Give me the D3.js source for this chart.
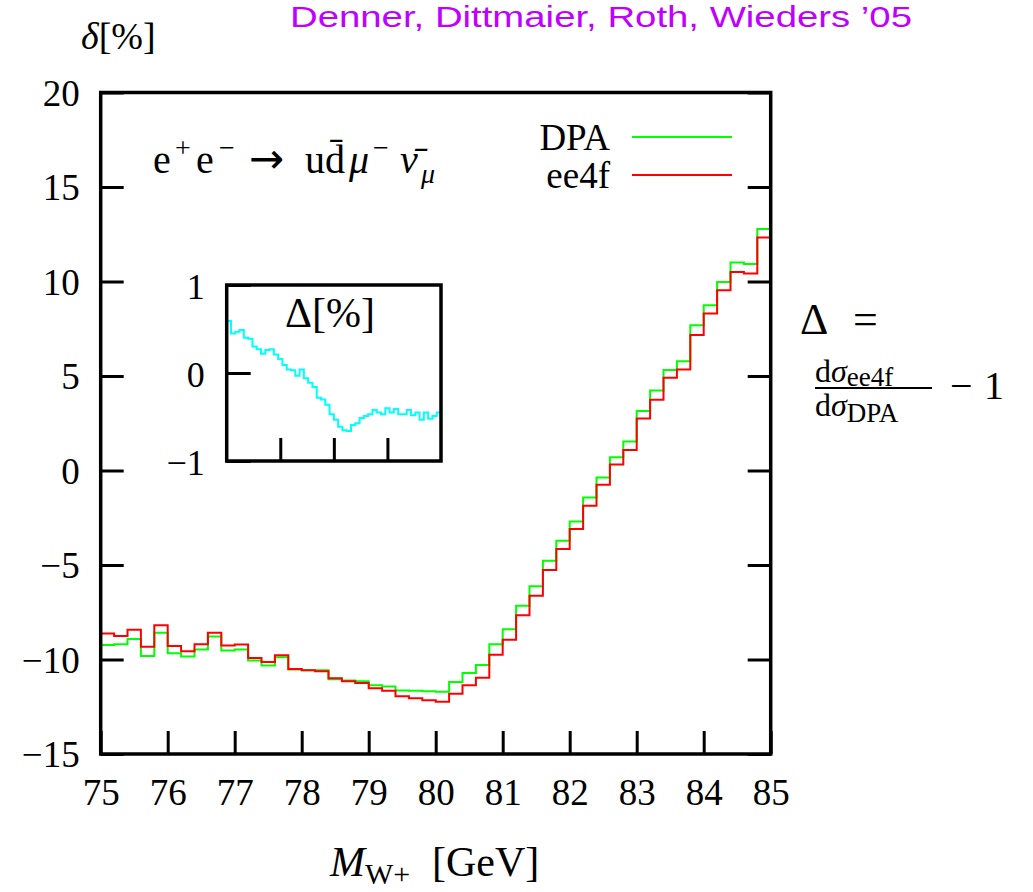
<!DOCTYPE html>
<html>
<head>
<meta charset="utf-8">
<script src="https://cdn.jsdelivr.net/npm/d3@7"></script>
<style>
  body { margin: 0; background: #fff; }
  svg { display: block; }
  .serif { font-family: "Liberation Serif", "DejaVu Serif", serif; fill: #000; }
</style>
</head>
<body>
<script>
// bin edges of M_W+ [GeV]
const binEdges = [75.0, 75.2, 75.4, 75.6, 75.8, 76.0, 76.2, 76.4, 76.6, 76.8,
  77.0, 77.2, 77.4, 77.6, 77.8, 78.0, 78.2, 78.4, 78.6, 78.8,
  79.0, 79.2, 79.4, 79.6, 79.8, 80.0, 80.2, 80.4, 80.6, 80.8,
  81.0, 81.2, 81.4, 81.6, 81.8, 82.0, 82.2, 82.4, 82.6, 82.8,
  83.0, 83.2, 83.4, 83.6, 83.8, 84.0, 84.2, 84.4, 84.6, 84.8, 85.0];

// delta [%] per bin
const dpa = [-9.23, -9.19, -8.91, -9.81, -8.59, -9.67, -9.84, -9.47, -8.78, -9.52,
  -9.47, -10.05, -10.32, -9.88, -10.53, -10.57, -10.57, -11.04, -11.11, -11.15,
  -11.36, -11.43, -11.64, -11.66, -11.68, -11.71, -11.19, -10.72, -10.29, -9.19,
  -8.40, -7.16, -6.12, -4.78, -3.72, -2.70, -1.43, -0.37, 0.70, 1.53,
  3.15, 4.23, 5.32, 5.78, 7.68, 8.75, 9.98, 11.00, 10.92, 12.78];

const ee4f = [-8.62, -8.75, -8.43, -9.33, -8.19, -9.28, -9.56, -9.19, -8.59, -9.26,
  -9.21, -9.92, -10.13, -9.77, -10.50, -10.57, -10.62, -10.99, -11.15, -11.24,
  -11.52, -11.66, -11.94, -12.05, -12.15, -12.24, -11.81, -11.36, -10.96, -9.75,
  -8.95, -7.66, -6.63, -5.26, -4.15, -3.09, -1.87, -0.76, 0.32, 1.08,
  2.75, 3.75, 4.91, 5.35, 7.17, 8.31, 9.54, 10.50, 10.42, 12.33];

// inset: Delta [%] = dsigma_ee4f / dsigma_DPA - 1
const deltaRel = [0.59, 0.45, 0.47, 0.49, 0.40, 0.39, 0.30, 0.27, 0.22, 0.26,
  0.27, 0.21, 0.16, 0.09, 0.04, 0.03, -0.03, 0.04, -0.06, -0.11,
  -0.16, -0.28, -0.30, -0.36, -0.47, -0.53, -0.61, -0.65, -0.66, -0.59,
  -0.57, -0.51, -0.49, -0.47, -0.42, -0.45, -0.47, -0.40, -0.45, -0.41,
  -0.47, -0.47, -0.42, -0.48, -0.45, -0.53, -0.45, -0.52, -0.49, -0.45];

const xTicks = [75, 76, 77, 78, 79, 80, 81, 82, 83, 84, 85];
const yTicks = [-15, -10, -5, 0, 5, 10, 15, 20];
const insetXTicks = [77.5, 80, 82.5];
const insetYTicks = [-1, 0, 1];

const svg = d3.select(document.body).append('svg')
  .attr('width', 1033).attr('height', 892);

const main = { left: 100.7, right: 770.7, top: 92.5, bottom: 754 };
const inset = { left: 226.7, right: 441, top: 285, bottom: 461 };

const x = d3.scaleLinear().domain([75, 85]).range([main.left, main.right]);
const y = d3.scaleLinear().domain([-15, 20]).range([main.bottom, main.top]);
const xi = d3.scaleLinear().domain([75, 85]).range([inset.left, inset.right]);
const yi = d3.scaleLinear().domain([-1, 1]).range([inset.bottom, inset.top]);

// step points: value of each bin starts at its low edge, last edge closes it
function steps(vals){
  const pts = vals.map((v, i) => [binEdges[i], v]);
  pts.push([binEdges[binEdges.length - 1], vals[vals.length - 1]]);
  return pts;
}

drawMain();
drawInset();
drawTexts();

function drawMain(){
  const line = d3.line().curve(d3.curveStepAfter)
    .x(d => x(d[0])).y(d => y(d[1]));

  svg.append('path').datum(steps(dpa))
    .attr('d', line).attr('fill', 'none')
    .attr('stroke', '#00ff00').attr('stroke-width', 2);
  svg.append('path').datum(steps(ee4f))
    .attr('d', line).attr('fill', 'none')
    .attr('stroke', '#ff0000').attr('stroke-width', 2);

  const gx = svg.append('g')
    .attr('transform', `translate(0,${main.bottom})`)
    .call(d3.axisBottom(x).tickValues(xTicks).tickSize(-23).tickPadding(25)
      .tickFormat(d3.format('d')));
  const gy = svg.append('g')
    .attr('transform', `translate(${main.left},0)`)
    .call(d3.axisLeft(y).tickValues(yTicks).tickSize(-23).tickPadding(21)
      .tickFormat(d3.format('d')));
  const gr = svg.append('g')
    .attr('transform', `translate(${main.right},0)`)
    .call(d3.axisRight(y).tickValues(yTicks).tickSize(-23).tickFormat(''));

  [gx, gy, gr].forEach(g => {
    g.select('.domain').remove();
    g.selectAll('line').attr('stroke', '#000').attr('stroke-width', 3);
    g.selectAll('text').attr('class', 'serif').attr('font-size', 37)
      .attr('fill', '#000');
  });
  gx.selectAll('text').attr('dy', '0.7em');
  gy.selectAll('text').attr('dy', '0.35em');

  svg.append('rect')
    .attr('x', main.left).attr('y', main.top)
    .attr('width', main.right - main.left).attr('height', main.bottom - main.top)
    .attr('fill', 'none').attr('stroke', '#000').attr('stroke-width', 3.5);

  // legend
  const legend = [
    {name: 'DPA', color: '#00ff00', ty: 150, ly: 137},
    {name: 'ee4f', color: '#ff0000', ty: 188, ly: 175}
  ];
  legend.forEach(l => {
    svg.append('text').attr('class', 'serif')
      .attr('x', 610).attr('y', l.ty).attr('text-anchor', 'end')
      .attr('font-size', 37).text(l.name);
    svg.append('line')
      .attr('x1', 632).attr('x2', 732).attr('y1', l.ly).attr('y2', l.ly)
      .attr('stroke', l.color).attr('stroke-width', 2);
  });
}

function drawInset(){
  svg.append('rect')
    .attr('x', inset.left).attr('y', inset.top)
    .attr('width', inset.right - inset.left).attr('height', inset.bottom - inset.top)
    .attr('fill', '#fff');

  const line = d3.line().curve(d3.curveStepAfter)
    .x(d => xi(d[0])).y(d => yi(d[1]));
  svg.append('path').datum(steps(deltaRel))
    .attr('d', line).attr('fill', 'none')
    .attr('stroke', '#00ffff').attr('stroke-width', 2);

  const gx = svg.append('g')
    .attr('transform', `translate(0,${inset.bottom})`)
    .call(d3.axisBottom(xi).tickValues(insetXTicks).tickSize(-23).tickFormat(''));
  const gy = svg.append('g')
    .attr('transform', `translate(${inset.left},0)`)
    .call(d3.axisLeft(yi).tickValues(insetYTicks).tickSize(-24).tickPadding(22)
      .tickFormat(d3.format('d')));
  [gx, gy].forEach(g => {
    g.select('.domain').remove();
    g.selectAll('line').attr('stroke', '#000').attr('stroke-width', 3);
    g.selectAll('text').attr('class', 'serif').attr('font-size', 36)
      .attr('fill', '#000').attr('dy', '0.38em');
  });

  svg.append('rect')
    .attr('x', inset.left).attr('y', inset.top)
    .attr('width', inset.right - inset.left).attr('height', inset.bottom - inset.top)
    .attr('fill', 'none').attr('stroke', '#000').attr('stroke-width', 3.5);

  svg.append('text').attr('class', 'serif')
    .attr('x', 285).attr('y', 327).attr('font-size', 42)
    .text('Δ[%]');
}

function drawTexts(){
  svg.append('text')
    .attr('x', 290).attr('y', 27)
    .attr('font-family', '"Liberation Sans", Arial, sans-serif')
    .attr('font-size', 30).attr('fill', '#c000ff')
    .attr('textLength', 622).attr('lengthAdjust', 'spacingAndGlyphs')
    .text('Denner, Dittmaier, Roth, Wieders ’05');

  // y axis title
  const yt = svg.append('text').attr('class', 'serif')
    .attr('x', 81).attr('y', 49).attr('font-size', 38);
  yt.append('tspan').attr('font-style', 'italic').text('δ');
  yt.append('tspan').text('[%]');

  // x axis title
  const xt = svg.append('text').attr('class', 'serif')
    .attr('x', 330).attr('y', 876).attr('font-size', 42);
  xt.append('tspan').attr('font-style', 'italic').text('M');
  xt.append('tspan').attr('font-size', 30).attr('dy', 8).text('W+');
  xt.append('tspan').attr('x', 432).attr('dy', -8).text('[GeV]');

  // process
  const pt = svg.append('text').attr('class', 'serif')
    .attr('y', 173).attr('font-size', 40);
  pt.append('tspan').attr('x', 153).text('e');
  pt.append('tspan').attr('x', 175).attr('font-size', 28).attr('dy', -16).text('+');
  pt.append('tspan').attr('x', 196).attr('dy', 16).text('e');
  pt.append('tspan').attr('x', 219).attr('font-size', 28).attr('dy', -16).text('−');
  pt.append('tspan').attr('x', 249).attr('dy', 16)
    .attr('font-family', '"DejaVu Sans", sans-serif').attr('font-size', 42).text('→');
  pt.append('tspan').attr('x', 305).text('ud\u0304');
  pt.append('tspan').attr('x', 349).attr('font-style', 'italic').text('μ');
  pt.append('tspan').attr('x', 373).attr('font-size', 28).attr('dy', -16).text('−');
  pt.append('tspan').attr('x', 400).attr('dy', 16).attr('font-style', 'italic').text('ν\u0304');
  pt.append('tspan').attr('x', 421).attr('font-size', 28).attr('dy', 10).attr('font-style', 'italic').text('μ');

  // right hand formula
  const eq = svg.append('text').attr('class', 'serif')
    .attr('y', 334).attr('font-size', 44);
  eq.append('tspan').attr('x', 800).text('Δ');
  eq.append('tspan').attr('x', 853).text('=');

  const num = svg.append('text').attr('class', 'serif')
    .attr('x', 815).attr('y', 382).attr('font-size', 32);
  num.append('tspan').text('d');
  num.append('tspan').attr('font-style', 'italic').text('σ');
  num.append('tspan').attr('font-size', 27).attr('dy', 4).text('ee4f');

  svg.append('line')
    .attr('x1', 815).attr('x2', 932).attr('y1', 388).attr('y2', 388)
    .attr('stroke', '#000').attr('stroke-width', 2);

  const den = svg.append('text').attr('class', 'serif')
    .attr('x', 815).attr('y', 416).attr('font-size', 32);
  den.append('tspan').text('d');
  den.append('tspan').attr('font-style', 'italic').text('σ');
  den.append('tspan').attr('font-size', 27).attr('dy', 6).text('DPA');

  const m1 = svg.append('text').attr('class', 'serif')
    .attr('y', 399).attr('font-size', 40);
  m1.append('tspan').attr('x', 950).text('−');
  m1.append('tspan').attr('x', 984).text('1');
}
</script>
</body>
</html>
